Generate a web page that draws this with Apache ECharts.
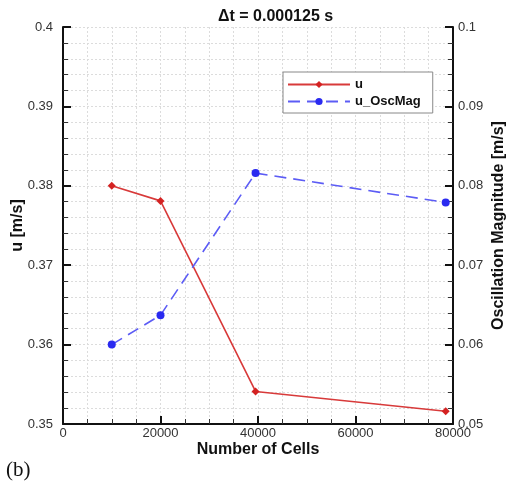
<!DOCTYPE html>
<html>
<head>
<meta charset="utf-8">
<script src="https://cdn.jsdelivr.net/npm/echarts@6/dist/echarts.min.js"></script>
<style>
  html, body { margin: 0; padding: 0; background: #fff; }
  #chart { width: 506px; height: 488px; }
</style>
</head>
<body>
<div id="chart"></div>
<script>
// Mesh sizes (number of cells)
const cells = [10000, 20000, 39500, 78500];
// Mean velocity u [m/s]
const uValues = [0.3800, 0.3781, 0.3541, 0.3516];
// Oscillation magnitude [m/s]
const oscValues = [0.0600, 0.0637, 0.0816, 0.0779];

const xTicks = { min: 0, max: 80000, interval: 20000 };
const uTicks = { min: 0.35, max: 0.40, interval: 0.01 };
const oscTicks = { min: 0.05, max: 0.10, interval: 0.01 };

const FONT = 'Liberation Sans, Arial, sans-serif';

const chart = echarts.init(document.getElementById('chart'), null, { renderer: 'canvas' });

const gridLine = { show: true, lineStyle: { color: '#dcdcdc', type: [2, 2], width: 1 } };

function fmt(v) { return String(+v.toFixed(2)); }

const yBase = {
  type: 'value',
  nameLocation: 'middle',
  nameMoveOverlap: false,
  nameTextStyle: { fontFamily: FONT, fontSize: 16, fontWeight: 'bold', color: '#111' },
  axisLine: { show: true, lineStyle: { color: '#111', width: 2 } },
  axisTick: { show: true, inside: true, length: 8, lineStyle: { color: '#111', width: 2 } },
  minorTick: { show: true, splitNumber: 5, length: 5, lineStyle: { color: '#333', width: 1 } },
  axisLabel: { fontFamily: FONT, fontSize: 13, color: '#333', formatter: fmt }
};

chart.setOption({
  animation: false,
  backgroundColor: '#fff',
  grid: { left: 63, right: 53, top: 27, bottom: 64, containLabel: false, outerBoundsMode: 'none' },
  legend: {
    left: 283, top: 72,
    orient: 'vertical',
    backgroundColor: '#fff',
    borderColor: '#888', borderWidth: 1, borderRadius: 0,
    padding: [6, 12, 5, 4],
    itemGap: 4, itemWidth: 62, itemHeight: 9,
    textStyle: { fontFamily: FONT, fontSize: 13, fontWeight: 'bold', color: '#111' },
    data: ['u', 'u_OscMag']
  },
  xAxis: {
    type: 'value',
    min: xTicks.min, max: xTicks.max, interval: xTicks.interval,
    name: 'Number of Cells',
    nameLocation: 'middle', nameGap: 18, nameMoveOverlap: false,
    nameTextStyle: { fontFamily: FONT, fontSize: 16, fontWeight: 'bold', color: '#111' },
    axisLine: { show: true, onZero: false, lineStyle: { color: '#111', width: 2 } },
    axisTick: { show: true, inside: true, length: 8, lineStyle: { color: '#111', width: 2 } },
    minorTick: { show: true, splitNumber: 4, length: 5, lineStyle: { color: '#333', width: 1 } },
    axisLabel: { fontFamily: FONT, fontSize: 13, color: '#333', margin: 3, formatter: v => String(v) },
    splitLine: gridLine,
    minorSplitLine: gridLine
  },
  yAxis: [
    Object.assign({}, yBase, {
      position: 'left',
      min: uTicks.min, max: uTicks.max, interval: uTicks.interval,
      name: 'u [m/s]', nameGap: 37,
      axisLabel: Object.assign({}, yBase.axisLabel, { margin: 10 }),
      splitLine: gridLine,
      minorSplitLine: gridLine
    }),
    Object.assign({}, yBase, {
      position: 'right',
      min: oscTicks.min, max: oscTicks.max, interval: oscTicks.interval,
      name: 'Oscillation Magnitude [m/s]', nameGap: 38,
      axisLabel: Object.assign({}, yBase.axisLabel, { margin: 5 }),
      splitLine: { show: false },
      minorSplitLine: { show: false }
    })
  ],
  graphic: [
    {
      type: 'text', left: 218, top: 9,
      style: { text: '\u0394t = 0.000125 s', font: 'bold 16px ' + FONT, fill: '#111' }
    },
    {
      type: 'text', left: 6, top: 460,
      style: { text: '(b)', font: '21px Liberation Serif, Times New Roman, serif', fill: '#111' }
    }
  ],
  series: [
    {
      name: 'u', type: 'line', yAxisIndex: 0,
      data: cells.map((c, i) => [c, uValues[i]]),
      symbol: 'diamond', symbolSize: 8,
      itemStyle: { color: '#d42222' },
      lineStyle: { color: '#d83a3a', width: 1.6 }
    },
    {
      name: 'u_OscMag', type: 'line', yAxisIndex: 1,
      data: cells.map((c, i) => [c, oscValues[i]]),
      symbol: 'circle', symbolSize: 8,
      itemStyle: { color: '#2a2af0' },
      lineStyle: { color: '#5c5cf5', width: 1.6, type: [12, 7] }
    }
  ]
});
</script>
</body>
</html>
